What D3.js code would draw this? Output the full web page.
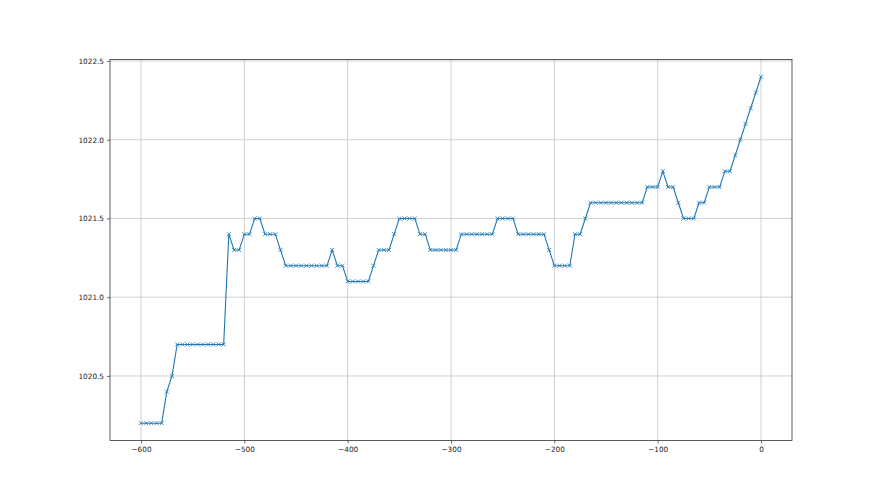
<!DOCTYPE html>
<html>
<head>
<meta charset="utf-8">
<script src="https://cdn.jsdelivr.net/npm/d3@7"></script>
<style>
  body { margin: 0; background: #fff; }
</style>
</head>
<body>
<div id="chart"></div>
<script>
// values read every 5 steps from -600 to 0
const xs = d3.range(-600, 1, 5);
const pressure = [
  1020.2, 1020.2, 1020.2, 1020.2, 1020.2, 1020.4, 1020.5,
  1020.7, 1020.7, 1020.7, 1020.7, 1020.7, 1020.7, 1020.7, 1020.7, 1020.7, 1020.7,
  1021.4, 1021.3, 1021.3, 1021.4, 1021.4, 1021.5, 1021.5,
  1021.4, 1021.4, 1021.4, 1021.3,
  1021.2, 1021.2, 1021.2, 1021.2, 1021.2, 1021.2, 1021.2, 1021.2, 1021.2,
  1021.3, 1021.2, 1021.2,
  1021.1, 1021.1, 1021.1, 1021.1, 1021.1,
  1021.2, 1021.3, 1021.3, 1021.3, 1021.4,
  1021.5, 1021.5, 1021.5, 1021.5, 1021.4, 1021.4,
  1021.3, 1021.3, 1021.3, 1021.3, 1021.3, 1021.3,
  1021.4, 1021.4, 1021.4, 1021.4, 1021.4, 1021.4, 1021.4,
  1021.5, 1021.5, 1021.5, 1021.5,
  1021.4, 1021.4, 1021.4, 1021.4, 1021.4, 1021.4,
  1021.3, 1021.2, 1021.2, 1021.2, 1021.2,
  1021.4, 1021.4, 1021.5,
  1021.6, 1021.6, 1021.6, 1021.6, 1021.6, 1021.6, 1021.6, 1021.6, 1021.6, 1021.6, 1021.6,
  1021.7, 1021.7, 1021.7, 1021.8, 1021.7, 1021.7, 1021.6,
  1021.5, 1021.5, 1021.5, 1021.6, 1021.6,
  1021.7, 1021.7, 1021.7, 1021.8, 1021.8,
  1021.9, 1022.0, 1022.1, 1022.2, 1022.3, 1022.4
];
const xTicks = [-600, -500, -400, -300, -200, -100, 0];
const yTicks = [1020.5, 1021.0, 1021.5, 1022.0, 1022.5];

const data = xs.map((x, i) => ({ x: x, y: pressure[i] }));

const W = 880, H = 495;
const margin = { top: 59.4, right: 88, bottom: 54.5, left: 110 },
      width = W - margin.left - margin.right,
      height = H - margin.top - margin.bottom;

const svg = d3.select("#chart")
  .append("svg")
  .attr("width", W)
  .attr("height", H)
  .style("font-family", "'DejaVu Sans', sans-serif")
  .append("g")
  .attr("transform", `translate(${margin.left},${margin.top})`);

const x = d3.scaleLinear().domain([-630, 30]).range([0, width]);
const y = d3.scaleLinear().domain([1020.09, 1022.51]).range([height, 0]);

const fmtX = d => d3.format("d")(d).replace("-", "\u2212");

// grid
svg.append("g")
  .selectAll("line")
  .data(xTicks)
  .join("line")
  .attr("x1", d => x(d)).attr("x2", d => x(d))
  .attr("y1", 0).attr("y2", height)
  .attr("stroke", "#c4c4c4")
  .attr("stroke-width", 0.8);

svg.append("g")
  .selectAll("line")
  .data(yTicks)
  .join("line")
  .attr("y1", d => y(d)).attr("y2", d => y(d))
  .attr("x1", 0).attr("x2", width)
  .attr("stroke", "#c4c4c4")
  .attr("stroke-width", 0.8);

// axes
const xAxis = svg.append("g")
  .attr("transform", `translate(0,${height})`)
  .call(d3.axisBottom(x).tickValues(xTicks).tickFormat(fmtX).tickSize(3).tickPadding(3));

const yAxis = svg.append("g")
  .call(d3.axisLeft(y).tickValues(yTicks).tickFormat(d3.format(".1f")).tickSize(3).tickPadding(3));

[xAxis, yAxis].forEach(a => {
  a.select(".domain").remove();
  a.selectAll("line").attr("stroke", "#333").attr("stroke-width", 0.7);
  a.selectAll("text")
    .style("font-size", "7.3px")
    .style("font-family", "'DejaVu Sans', sans-serif")
    .attr("fill", "#222");
});

// frame
svg.append("rect")
  .attr("width", width)
  .attr("height", height)
  .attr("fill", "none")
  .attr("stroke", "#333")
  .attr("stroke-width", 0.8);

// line
const line = d3.line().x(d => x(d.x)).y(d => y(d.y));

svg.append("path")
  .datum(data)
  .attr("fill", "none")
  .attr("stroke", "#1f77b4")
  .attr("stroke-width", 1.1)
  .attr("d", line);

// x markers
const m = 2;
svg.append("g")
  .selectAll("path")
  .data(data)
  .join("path")
  .attr("d", d => {
    const cx = x(d.x), cy = y(d.y);
    return `M${cx - m},${cy - m}L${cx + m},${cy + m}M${cx - m},${cy + m}L${cx + m},${cy - m}`;
  })
  .attr("stroke", "#1f77b4")
  .attr("stroke-width", 0.8)
  .attr("fill", "none");
</script>
</body>
</html>
